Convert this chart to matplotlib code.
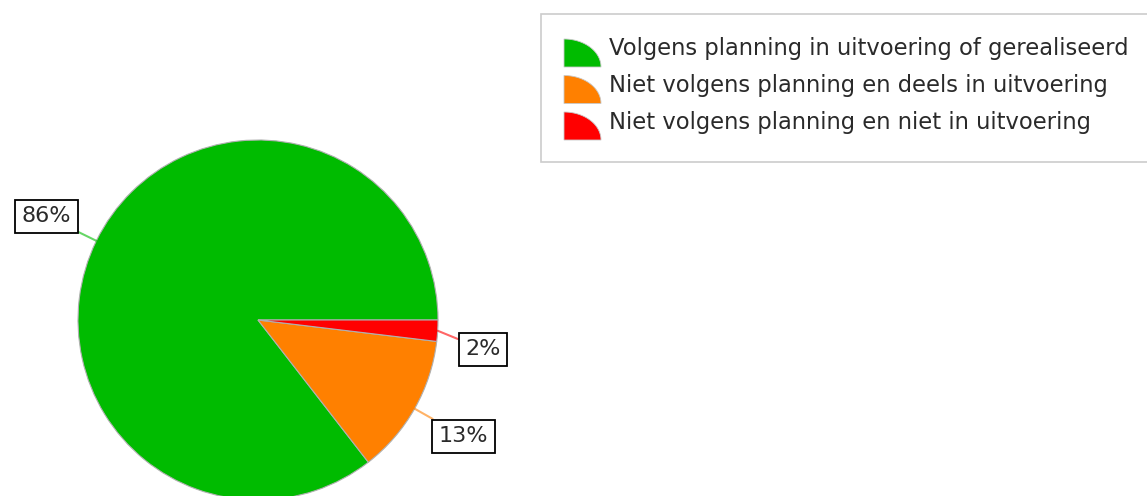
import numpy as np
import matplotlib
matplotlib.use("Agg")
import matplotlib.pyplot as plt
from matplotlib.patches import Polygon, Rectangle

# status categories and their share (percent)
labels = ["Volgens planning in uitvoering of gerealiseerd",
          "Niet volgens planning en deels in uitvoering",
          "Niet volgens planning en niet in uitvoering"]
shares = [85.5, 12.6, 1.9]
colors = ["#00bb00", "#ff8000", "#ff0000"]

plt.rcParams['font.family'] = ['DejaVu Sans']

W, H = 1147, 496
fig = plt.figure(figsize=(W / 100, H / 100), dpi=100)
ax = fig.add_axes([0, 0, 1, 1])

# pie, pixel coordinates (y up)
cx, cy, r = 258, H - 320, 180
wedges, _ = ax.pie(shares, colors=colors, startangle=0, counterclock=True,
                   center=(cx, cy), radius=r, frame=True,
                   wedgeprops=dict(edgecolor='#b0b0b0', linewidth=0.8))
ax.set_xlim(0, W)
ax.set_ylim(0, H)
ax.set_aspect('equal')
ax.axis('off')

shift = [0, 0, -4]       # nudge the tiny slice label a bit
dist = [1.31, 1.31, 1.26]
for w, p, c, s, d in zip(wedges, shares, colors, shift, dist):
    mid = np.deg2rad((w.theta1 + w.theta2) / 2)
    lab = np.deg2rad((w.theta1 + w.theta2) / 2 + s)
    ex, ey = cx + r * np.cos(mid), cy + r * np.sin(mid)
    tx, ty = cx + d * r * np.cos(lab), cy + d * r * np.sin(lab)
    ax.annotate(f"{p:.0f}%", xy=(ex, ey), xytext=(tx, ty),
                ha='center', va='center', fontsize=16, color='#2a2a2a',
                bbox=dict(boxstyle='square,pad=0.3', fc='white', ec='black', lw=1.3),
                arrowprops=dict(arrowstyle='-', color=c, alpha=0.6, lw=1.5,
                                shrinkA=0, shrinkB=0))

# legend box drawn by hand (quarter-ellipse markers)
ax.add_patch(Rectangle((541, H - 162), 620, 148, fc='white', ec='#cccccc', lw=1.2))
t = np.linspace(0, np.pi / 2, 30)
for i, (lab, c) in enumerate(zip(labels, colors)):
    yc = H - (49 + 36.5 * i)
    x0, y0 = 564, yc - 18
    pts = np.vstack([[x0, y0], np.column_stack([x0 + 37 * np.cos(t), y0 + 28 * np.sin(t)])])
    ax.add_patch(Polygon(pts, closed=True, fc=c, ec='#c8c8c8', lw=0.6))
    ax.text(609, yc, lab, fontsize=16.3, color='#2a2a2a', va='center', ha='left')

fig.savefig("out.png", dpi=100)
